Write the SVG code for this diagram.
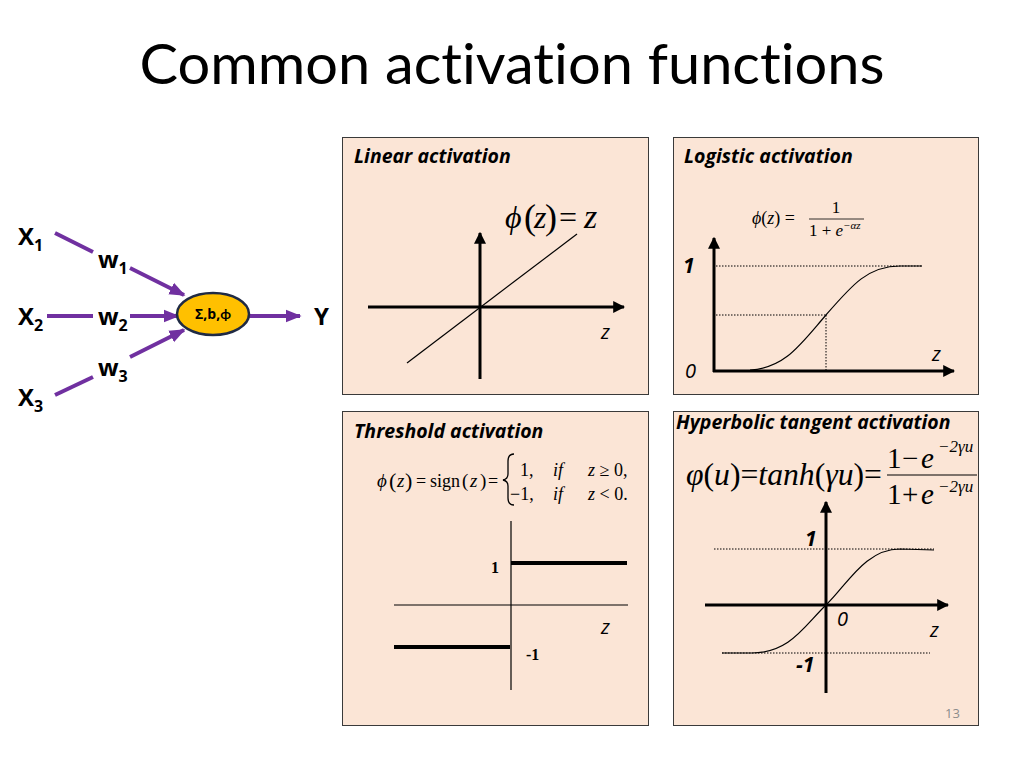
<svg xmlns="http://www.w3.org/2000/svg" width="1024" height="768" viewBox="0 0 1024 768">
<defs>
<style>
text{font-variant-ligatures:none}
.title{font-family:Lato,"Open Sans","Liberation Sans",sans-serif;font-size:56px;fill:#000}
.ptitle{font-family:"Open Sans",Lato,"Liberation Sans",sans-serif;font-size:19.5px;font-weight:bold;font-style:italic;fill:#000}
.lab{font-family:"Open Sans",Lato,"Liberation Sans",sans-serif;font-weight:bold;font-size:24px;fill:#000}
.sub{font-size:16px}
.ax{font-family:"Open Sans",Lato,"Liberation Sans",sans-serif;font-style:italic;font-size:20px;fill:#000}
.axb{font-family:"Open Sans",Lato,"Liberation Sans",sans-serif;font-style:italic;font-weight:bold;font-size:21px;fill:#000}
.m{font-family:"Liberation Serif","Times New Roman",serif;fill:#000}
.it{font-style:italic}
.panel{fill:#FBE5D6;stroke:#3a3a3a;stroke-width:1}
.axis{stroke:#000;stroke-width:3;fill:none}
.thin{stroke:#000;stroke-width:1.2;fill:none}
.dot{stroke:#000;stroke-width:1;stroke-dasharray:1.5 1.5;fill:none}
.thick{stroke:#000;stroke-width:4;fill:none}
.pl{stroke:#7030A0;stroke-width:4;fill:none}
</style>
<marker id="ah" viewBox="0 0 10 10" refX="9" refY="5" markerWidth="12" markerHeight="12" markerUnits="userSpaceOnUse" orient="auto"><path d="M0,0 L10,5 L0,10 z" fill="#000"/></marker>
<marker id="pa" viewBox="0 0 10 10" refX="9" refY="5" markerWidth="16" markerHeight="16" markerUnits="userSpaceOnUse" orient="auto"><path d="M0,1 L10,5 L0,9 z" fill="#7030A0"/></marker>
</defs>
<rect width="1024" height="768" fill="#fff"/>
<text class="title" x="512" y="84" text-anchor="middle" textLength="745" lengthAdjust="spacingAndGlyphs">Common activation functions</text>

<!-- neuron network -->
<g id="connectors">
<line class="pl" x1="55" y1="233" x2="93" y2="252"/>
<line class="pl" x1="130" y1="268" x2="184" y2="295" marker-end="url(#pa)"/>
<line class="pl" x1="47" y1="316" x2="93" y2="316"/>
<line class="pl" x1="130" y1="316" x2="178" y2="316" marker-end="url(#pa)"/>
<line class="pl" x1="55" y1="395" x2="93" y2="377"/>
<line class="pl" x1="130" y1="357" x2="184" y2="330" marker-end="url(#pa)"/>
<line class="pl" x1="249" y1="316" x2="300" y2="316" marker-end="url(#pa)"/>
</g>
<g id="x1"><text class="lab" x="18" y="245">X<tspan class="sub" dy="6">1</tspan></text></g>
<g id="x2"><text class="lab" x="18" y="325">X<tspan class="sub" dy="6">2</tspan></text></g>
<g id="x3"><text class="lab" x="18" y="406">X<tspan class="sub" dy="6">3</tspan></text></g>
<g id="w1"><text class="lab" x="98" y="268">w<tspan class="sub" dy="6">1</tspan></text></g>
<g id="w2"><text class="lab" x="98" y="325">w<tspan class="sub" dy="6">2</tspan></text></g>
<g id="w3"><text class="lab" x="98" y="376">w<tspan class="sub" dy="6">3</tspan></text></g>
<g id="neuron">
<ellipse cx="213" cy="314" rx="36" ry="21" fill="#FFC000" stroke="#1F2A44" stroke-width="2.5"/>
<text x="213" y="319" text-anchor="middle" font-family="'Open Sans',Lato,sans-serif" font-weight="bold" font-size="14">Σ,b,ϕ</text>
</g>
<g id="y"><text class="lab" x="314" y="325">Y</text></g>

<!-- Linear -->
<g id="linear">
<rect class="panel" x="342.5" y="137.5" width="306" height="257"/>
<text class="ptitle" x="354" y="163">Linear activation</text>
<text class="m it" x="505" y="228" font-size="32">ϕ</text>
<text class="m" x="524" y="229" font-size="36">(</text>
<text class="m it" x="534" y="228" font-size="32">z</text>
<text class="m" x="545" y="229" font-size="36">)</text>
<text class="m" x="559" y="228" font-size="32">=</text>
<text class="m it" x="584" y="228" font-size="34">z</text>
<line class="axis" x1="480" y1="379" x2="480" y2="233" marker-end="url(#ah)"/>
<line class="axis" x1="368" y1="307" x2="624" y2="307" marker-end="url(#ah)"/>
<line class="thin" x1="407" y1="363" x2="577" y2="234"/>
<text class="ax" x="601" y="339">z</text>
</g>

<!-- Logistic -->
<g id="logistic">
<rect class="panel" x="673.5" y="137.5" width="305" height="257"/>
<text class="ptitle" x="684" y="163">Logistic  activation</text>
<text class="m" x="752" y="224" font-size="18"><tspan class="it">ϕ</tspan>(<tspan class="it">z</tspan>) =</text>
<text class="m" x="836" y="213" font-size="17" text-anchor="middle">1</text>
<line x1="809" y1="219" x2="864" y2="219" stroke="#000" stroke-width="0.8"/>
<text class="m" x="809" y="236" font-size="17">1 + <tspan class="it">e</tspan><tspan class="it" font-size="11" dy="-7">−αz</tspan></text>
<line class="axis" x1="714" y1="372" x2="714" y2="238" marker-end="url(#ah)"/>
<line class="axis" x1="713" y1="371" x2="954" y2="371" marker-end="url(#ah)"/>
<line class="dot" x1="716" y1="266" x2="922" y2="266"/>
<line class="dot" x1="716" y1="315" x2="826" y2="315"/>
<line class="dot" x1="826" y1="315" x2="826" y2="370"/>
<path class="thin" d="M750,370 C785,368 800,345 826,315 C852,285 868,266 900,266 L922,266"/>
<text class="axb" x="683" y="273">1</text>
<text class="ax" x="685" y="378">0</text>
<text class="ax" x="932" y="361">z</text>
</g>

<!-- Threshold -->
<g id="threshold">
<rect class="panel" x="342.5" y="411.5" width="306" height="314"/>
<text class="ptitle" x="354" y="438">Threshold activation</text>
<text class="m it" x="377" y="487" font-size="19">ϕ</text>
<text class="m" x="389" y="488" font-size="22">(</text>
<text class="m it" x="397" y="487" font-size="19">z</text>
<text class="m" x="405" y="488" font-size="22">)</text>
<text class="m" x="416" y="487" font-size="18">=</text>
<text class="m" x="430" y="487" font-size="18">sign</text>
<text class="m" x="462" y="487" font-size="19">(</text>
<text class="m it" x="470" y="487" font-size="19">z</text>
<text class="m" x="480" y="487" font-size="19">)</text>
<text class="m" x="488" y="487" font-size="18">=</text>
<path d="M514,454 Q508,454 508,461 L508,474 Q508,479 503,480 Q508,481 508,486 L508,498 Q508,505 514,505" fill="none" stroke="#000" stroke-width="1.3"/>
<text class="m" x="520" y="476" font-size="18">1,</text>
<text class="m it" x="553" y="476" font-size="18">if</text>
<text class="m" x="588" y="476" font-size="18"><tspan class="it">z</tspan> ≥ 0,</text>
<text class="m" x="510" y="500" font-size="18">−1,</text>
<text class="m it" x="553" y="500" font-size="18">if</text>
<text class="m" x="588" y="500" font-size="18"><tspan class="it">z</tspan> &lt; 0.</text>
<line class="thin" x1="511" y1="521" x2="511" y2="690"/>
<line class="thin" x1="394" y1="605" x2="628" y2="605"/>
<line class="thick" x1="511" y1="563" x2="627" y2="563"/>
<line class="thick" x1="394" y1="647" x2="510" y2="647"/>
<text class="m" x="491" y="573" font-size="16" font-weight="bold">1</text>
<text class="m" x="526" y="660" font-size="16" font-weight="bold">-1</text>
<text class="ax" x="601" y="634">z</text>
</g>

<!-- Hyperbolic tangent -->
<g id="tanh">
<rect class="panel" x="673.5" y="411.5" width="305" height="314"/>
<text class="ptitle" x="676" y="429">Hyperbolic tangent activation</text>
<text class="m" x="686" y="485" font-size="31" textLength="196" lengthAdjust="spacingAndGlyphs"><tspan class="it">φ</tspan>(<tspan class="it">u</tspan>)=<tspan class="it">tanh</tspan>(<tspan class="it">γu</tspan>)=</text>
<text class="m" x="887" y="468" font-size="29">1</text>
<text class="m" x="902" y="468" font-size="29">−</text>
<text class="m it" x="921" y="468" font-size="29">e</text>
<text class="m it" x="938" y="452" font-size="17">−2γu</text>
<line x1="887" y1="475" x2="977" y2="475" stroke="#000" stroke-width="1.2"/>
<text class="m" x="887" y="504" font-size="29">1</text>
<text class="m" x="902" y="504" font-size="29">+</text>
<text class="m it" x="921" y="504" font-size="29">e</text>
<text class="m it" x="938" y="492" font-size="17">−2γu</text>
<line class="axis" x1="826" y1="693" x2="826" y2="502" marker-end="url(#ah)"/>
<line class="axis" x1="705" y1="605" x2="948" y2="605" marker-end="url(#ah)"/>
<line class="dot" x1="714" y1="549" x2="934" y2="549"/>
<line class="dot" x1="722" y1="653" x2="930" y2="653"/>
<path class="thin" d="M722,653 L752,653 C790,653 805,625 826,605 C847,585 865,549 900,549 L934,550"/>
<text class="axb" x="805" y="546">1</text>
<text class="ax" x="837" y="626">0</text>
<text class="ax" x="930" y="637">z</text>
<text class="axb" x="796" y="672">-1</text>
<text x="945" y="718" font-family="'Open Sans',Lato,sans-serif" font-size="13" fill="#8c8c8c">13</text>
</g>
</svg>
